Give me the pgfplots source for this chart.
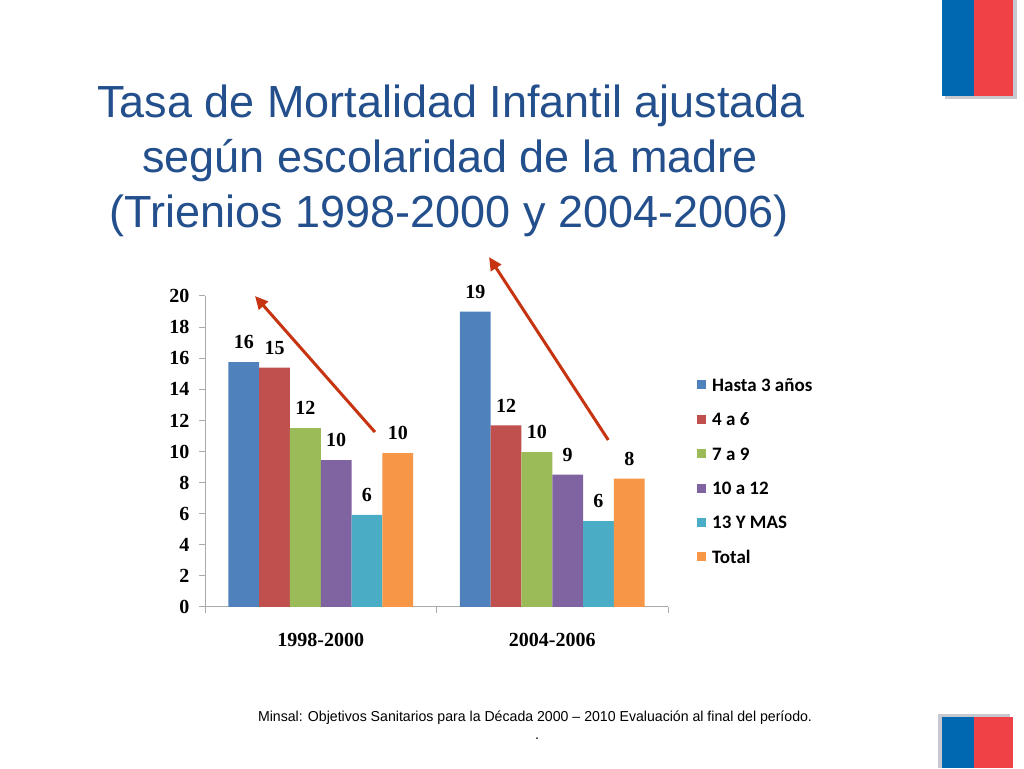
\documentclass[border=0pt]{standalone}
\usepackage{fontspec}
\setmainfont{Liberation Sans}
\newfontfamily\chartfont{Liberation Serif}
\newfontfamily\legfont{Carlito}
\usepackage{pgfplots}
\pgfplotsset{compat=1.18}
\usetikzlibrary{arrows.meta}
\definecolor{titleblue}{RGB}{35,79,140}
\definecolor{flagblue}{RGB}{0,103,177}
\definecolor{flagred}{RGB}{239,65,70}
\definecolor{shadowgray}{RGB}{200,200,208}
\definecolor{axisgray}{RGB}{170,170,170}
\definecolor{arrowred}{RGB}{198,52,18}
\definecolor{c1}{RGB}{79,129,189}
\definecolor{c2}{RGB}{192,80,77}
\definecolor{c3}{RGB}{155,187,89}
\definecolor{c4}{RGB}{128,100,162}
\definecolor{c5}{RGB}{75,172,198}
\definecolor{c6}{RGB}{247,150,70}
\begin{document}
\begin{tikzpicture}[x=1pt,y=1pt]
\useasboundingbox (0,0) rectangle (1024,768);
\fill[white] (0,0) rectangle (1024,768);
% flags
\fill[shadowgray] (945,768) rectangle (1016.5,669);
\fill[flagblue] (942,768) rectangle (974,672.3);
\fill[flagred] (974,768) rectangle (1012.7,672.3);
\fill[shadowgray] (938,0) rectangle (1010,54);
\fill[flagblue] (942,0) rectangle (974,51.3);
\fill[flagred] (974,0) rectangle (1012.7,51.3);
% title
\begin{scope}[every node/.style={anchor=base, text=titleblue, inner sep=0pt, font=\fontsize{45}{54}\selectfont}]
\node at (451,650) {Tasa de Mortalidad Infantil ajustada};
\node at (450,595) {según escolaridad de la madre};
\node at (449,540) {(Trienios 1998-2000 y 2004-2006)};
\end{scope}
% footer
\node[anchor=base, inner sep=0pt] at (535,47) {\resizebox{554pt}{\height}{\fontsize{14.4}{17}\selectfont Minsal: Objetivos Sanitarios para la Década 2000 – 2010 Evaluación al final del período.}};
\node[anchor=base, inner sep=0pt] at (537,29) {\fontsize{14.4}{17}\selectfont .};
\begin{axis}[
  at={(205pt,161pt)}, anchor=south west,
  scale only axis, width=463pt, height=311pt,
  xmin=-0.5, xmax=1.5, ymin=0, ymax=20,
  axis lines*=left,
  axis line style={draw=axisgray, line width=1pt},
  ybar=0pt, bar width=30.8pt,
  xtick={0,1}, xticklabels={1998-2000,2004-2006},
  minor xtick={-0.5,0.5,1.5},
  major x tick style={draw=none},
  minor x tick style={draw=axisgray, line width=1pt},
  ytick={0,2,...,20},
  y tick style={draw=axisgray, line width=1pt},
  tick align=outside, major tick length=6pt, minor tick length=6pt,
  tick label style={font=\chartfont\bfseries\fontsize{20}{22}\selectfont},
  xticklabel style={yshift=-17pt},
  yticklabel style={xshift=-6pt},
  /pgf/number format/assume math mode=true,
  clip=false,
  nodes near coords, point meta=explicit symbolic,
  every node near coord/.append style={font=\chartfont\bfseries\fontsize{20}{22}\selectfont, inner sep=0pt, anchor=south, yshift=13pt},
  legend cell align=left,
  legend image code/.code={\fill[#1] (0pt,-4.5pt) rectangle (9pt,4.5pt);},
  legend style={at={(1.0626,0.736)}, anchor=north west, draw=none, fill=none, inner sep=0pt,
    font=\legfont\bfseries\fontsize{19}{22}\selectfont, row sep=21.4pt, column sep=6pt,
    nodes={inner sep=0pt, text height=13pt, text depth=0pt}},
]
\addplot[fill=c1, draw=none] coordinates {(0,15.74)[16] (1,19.0)[19]};
\addplot[fill=c2, draw=none] coordinates {(0,15.4)[15] (1,11.68)[12]};
\addplot[fill=c3, draw=none] coordinates {(0,11.5)[12] (1,9.96)[10]};
\addplot[fill=c4, draw=none] coordinates {(0,9.44)[10] (1,8.52)[9]};
\addplot[fill=c5, draw=none] coordinates {(0,5.92)[6] (1,5.53)[6]};
\addplot[fill=c6, draw=none] coordinates {(0,9.9)[10] (1,8.26)[8]};
\legend{Hasta 3 años, 4 a 6, 7 a 9, 10 a 12, 13 Y MAS, Total}
\draw[arrowred, line width=3pt, -{Triangle[length=13pt,width=12pt]}] (axis cs:0.234,11.25) -- (axis cs:-0.284,20.0);
\draw[arrowred, line width=3pt, -{Triangle[length=13pt,width=12pt]}] (axis cs:1.242,10.74) -- (axis cs:0.727,22.5);
\end{axis}
\end{tikzpicture}
\end{document}
